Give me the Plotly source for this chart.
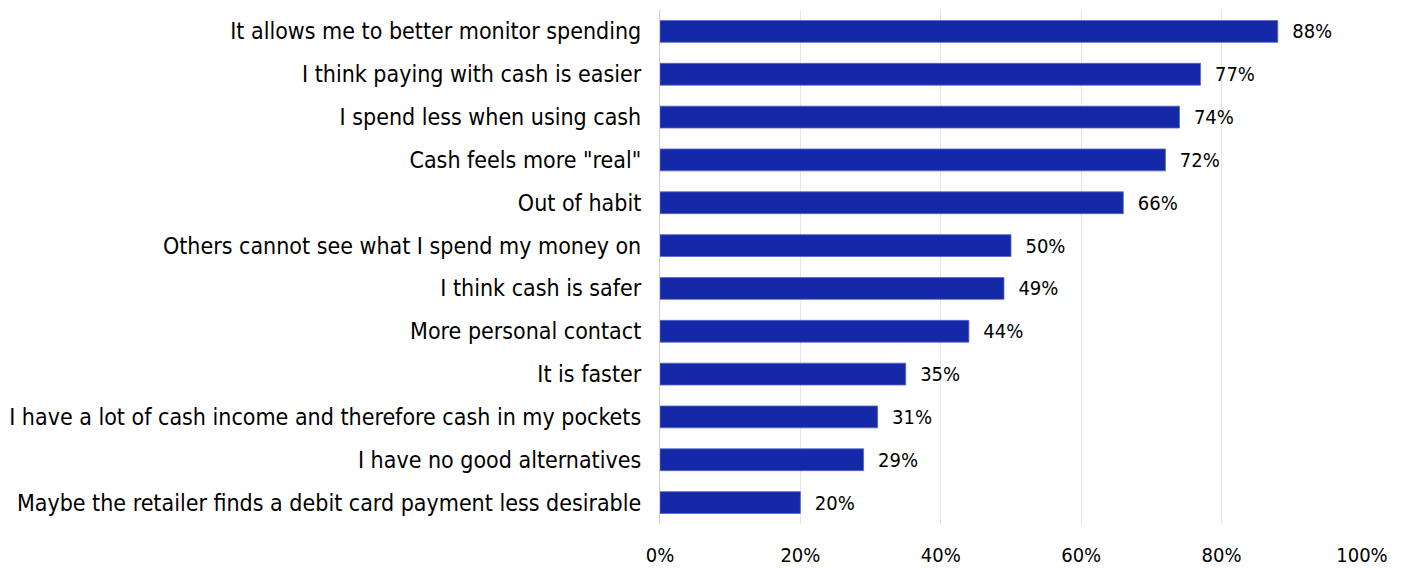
import plotly.graph_objects as go

categories = [
    "It allows me to better monitor spending",
    "I think paying with cash is easier",
    "I spend less when using cash",
    "Cash feels more \"real\"",
    "Out of habit",
    "Others cannot see what I spend my money on",
    "I think cash is safer",
    "More personal contact",
    "It is faster",
    "I have a lot of cash income and therefore cash in my pockets",
    "I have no good alternatives",
    "Maybe the retailer finds a debit card payment less desirable",
]
values = [88, 77, 74, 72, 66, 50, 49, 44, 35, 31, 29, 20]
tick_vals = [0, 20, 40, 60, 80, 100]
tick_text = ["0%", "20%", "40%", "60%", "80%", "100%"]

FONT = "DejaVu Sans Condensed"

fig = go.Figure(go.Bar(
    y=categories,
    x=values,
    orientation="h",
    marker=dict(color="#1428A8", line=dict(color="#5566C8", width=0.8)),
    text=[f"  {v}%" for v in values],
    textposition="outside",
    constraintext="none",
    textfont=dict(family=FONT, size=20, color="#000000"),
    cliponaxis=False,
))

fig.update_layout(
    width=1402, height=568,
    margin=dict(l=660, r=40, t=10, b=44, autoexpand=False),
    paper_bgcolor="white", plot_bgcolor="white",
    bargap=0.49,
    showlegend=False,
    font=dict(family=FONT, size=20, color="#000000"),
    xaxis=dict(
        range=[0, 100],
        tickvals=tick_vals, ticktext=tick_text,
        showgrid=True, gridcolor="#E6E6E6", gridwidth=1,
        zeroline=False, showline=False,
        tickfont=dict(family=FONT, size=20),
        ticklen=0, ticks="",
        ticklabelstandoff=17,
        automargin=False,
    ),
    yaxis=dict(
        autorange="reversed",
        showline=True, linecolor="#D0D0D0", linewidth=1,
        ticks="", ticklen=0,
        tickfont=dict(family=FONT, size=23),
        ticksuffix="  ",
        automargin=False,
    ),
)

fig.write_html("out.html")
